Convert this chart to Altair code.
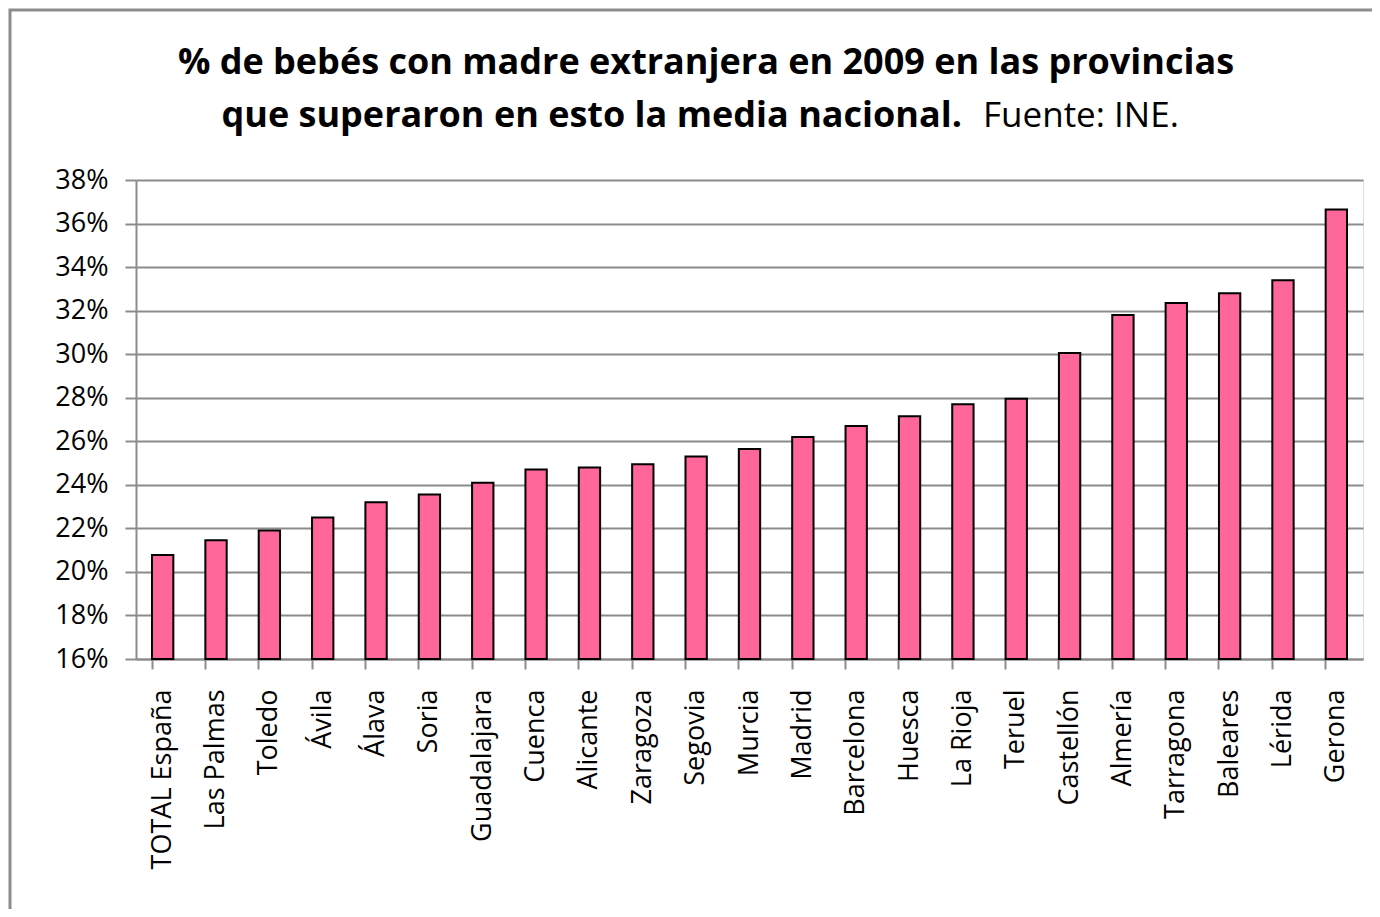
import altair as alt
import pandas as pd

provincias = ["TOTAL España", "Las Palmas", "Toledo", "Ávila", "Álava", "Soria",
              "Guadalajara", "Cuenca", "Alicante", "Zaragoza", "Segovia", "Murcia",
              "Madrid", "Barcelona", "Huesca", "La Rioja", "Teruel", "Castellón",
              "Almería", "Tarragona", "Baleares", "Lérida", "Gerona"]
porcentajes = [20.78, 21.45, 21.9, 22.5, 23.2, 23.55, 24.1, 24.7, 24.8, 24.95, 25.3, 25.65,
               26.2, 26.7, 27.15, 27.7, 27.95, 30.05, 31.8, 32.35, 32.8, 33.4, 36.65]
y_ticks = [0.16, 0.18, 0.20, 0.22, 0.24, 0.26, 0.28, 0.30, 0.32, 0.34, 0.36, 0.38]
baseline = 0.16

df = pd.DataFrame({"provincia": provincias, "valor": [v / 100 for v in porcentajes]})

FONT = "Open Sans"
GRAY = "#8c8c8c"

bars = alt.Chart(df).mark_bar(
    color="#ff6699", stroke="black", strokeWidth=2
).encode(
    x=alt.X("provincia:N", sort=provincias,
            scale=alt.Scale(paddingInner=0.6, paddingOuter=0.3),
            axis=alt.Axis(title=None, labelAngle=-90, labelFont=FONT, labelFontSize=27,
                          labelColor="black", labelPadding=20, tickSize=10, tickWidth=2,
                          tickColor=GRAY, bandPosition=0, domainColor=GRAY, domainWidth=2,
                          grid=False, labelAlign="right", labelBaseline="middle")),
    y=alt.Y("valor:Q",
            scale=alt.Scale(domain=[0.16, 0.38], nice=False, zero=False),
            axis=alt.Axis(title=None, values=y_ticks, format=".0%", labelFont=FONT,
                          labelFontSize=27, labelColor="black", labelPadding=17,
                          tickSize=11, tickWidth=2, tickColor=GRAY, domainColor=GRAY,
                          domainWidth=2, grid=True, gridColor=GRAY, gridWidth=2)),
    y2=alt.Y2(datum=baseline),
)

title1 = alt.Chart(pd.DataFrame({"t": ["% de bebés con madre extranjera en  2009 en las provincias"]})).mark_text(
    font=FONT, fontSize=36, fontWeight="bold", align="center", baseline="middle", color="black"
).encode(x=alt.value(570), y=alt.value(-117), text="t:N")

title2a = alt.Chart(pd.DataFrame({"t": ["que superaron en esto la media nacional."]})).mark_text(
    font=FONT, fontSize=36, fontWeight="bold", align="right", baseline="middle", color="black"
).encode(x=alt.value(826), y=alt.value(-64), text="t:N")

title2b = alt.Chart(pd.DataFrame({"t": ["Fuente: INE."]})).mark_text(
    font=FONT, fontSize=35, fontWeight="normal", align="left", baseline="middle", color="black"
).encode(x=alt.value(847), y=alt.value(-64), text="t:N")

border = alt.Chart(pd.DataFrame({"k": [0]})).mark_rect(
    fill=None, stroke=GRAY, strokeWidth=3
).encode(x=alt.value(-126), x2=alt.value(1300), y=alt.value(-170), y2=alt.value(800))

chart = alt.layer(border, bars, title1, title2a, title2b).properties(
    width=1227, height=479,
    autosize=alt.AutoSizeParams(type="none"),
    padding={"left": 128, "top": 172, "right": 9, "bottom": 250},
).configure_view(stroke=None).configure(background="white")

chart.save("out.html", embed_options={"renderer": "svg", "actions": False})
